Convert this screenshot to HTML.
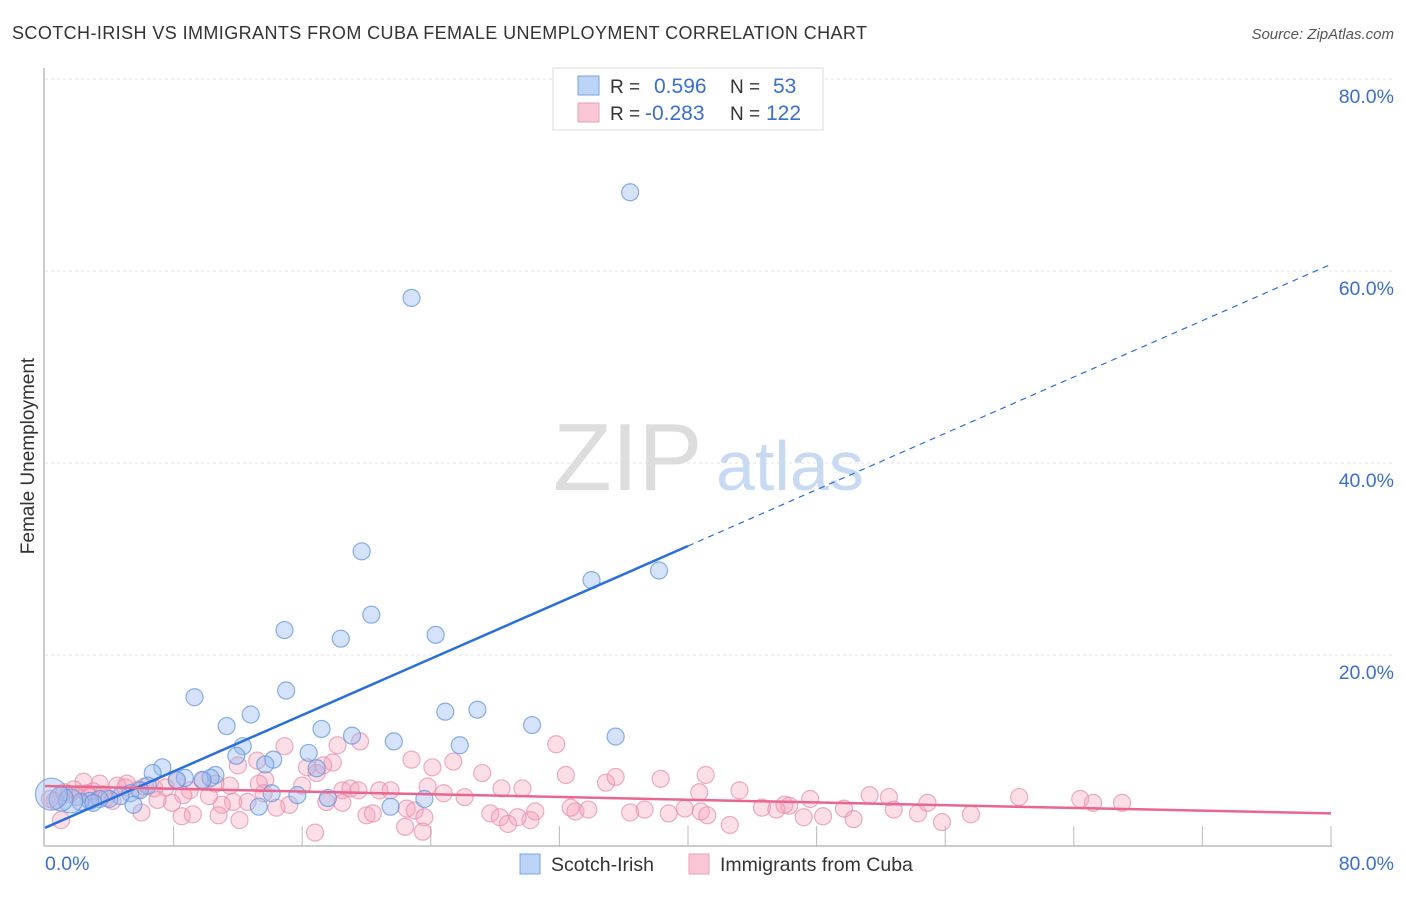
<!DOCTYPE html>
<html><head><meta charset="utf-8"><style>
body{margin:0;background:#fff;font-family:"Liberation Sans",sans-serif;}
svg text{font-family:"Liberation Sans",sans-serif;}
</style></head><body>
<svg id="chart" width="1406" height="892" viewBox="0 0 1406 892">
<text x="12" y="39" font-size="18" fill="#333" textLength="855">SCOTCH-IRISH VS IMMIGRANTS FROM CUBA FEMALE UNEMPLOYMENT CORRELATION CHART</text>
<text x="1394" y="39" font-size="15" fill="#555" font-style="italic" text-anchor="end">Source: ZipAtlas.com</text>
<g id="grid"></g>
<g>
<text x="553" y="490" font-size="96" fill="#ddd" font-family="Liberation Serif,serif">ZIP</text>
<text x="716" y="490" font-size="70" fill="#c8daf2">atlas</text>
</g>
<line x1="44" y1="68" x2="44" y2="846" stroke="#bbb" stroke-width="1.5"/>
<line x1="44" y1="846" x2="1332" y2="846" stroke="#bbb" stroke-width="1.5"/>
<g id="ticks"></g>
<g id="pts"></g>
<g id="lines"></g>
<text x="34" y="456" font-size="19" fill="#333" text-anchor="middle" transform="rotate(-90 34 456)">Female Unemployment</text>
<text x="45" y="870" font-size="19.5" fill="#3a6fd0">0.0%</text>
<text x="1394" y="870" font-size="19.5" fill="#3a6fd0" text-anchor="end">80.0%</text>
<g>
<rect x="553" y="68" width="270" height="62" fill="#fff" stroke="#ddd"/>
<rect x="578" y="76" width="21" height="19" fill="#bcd4f6" stroke="#7aa5e0"/>
<rect x="578" y="103" width="21" height="19" fill="#f9c6d4" stroke="#eaa0b8"/>
<text x="610" y="93" font-size="19" fill="#333">R = <tspan fill="#3a6fd0" x="654" font-size="21">0.596</tspan><tspan x="730">N = </tspan><tspan fill="#3a6fd0" x="773" font-size="21">53</tspan></text>
<text x="610" y="120" font-size="19" fill="#333">R = <tspan fill="#3a6fd0" x="645" font-size="21">-0.283</tspan><tspan x="730">N = </tspan><tspan fill="#3a6fd0" x="766" font-size="21">122</tspan></text>
</g>
<g>
<rect x="520" y="854" width="20" height="20" fill="#bcd4f6" stroke="#7aa5e0"/>
<text x="551" y="871" font-size="19.5" fill="#333">Scotch-Irish</text>
<text x="720" y="871" font-size="19.5" fill="#333">Immigrants from Cuba</text>
<rect x="689" y="854" width="20" height="20" fill="#f9c6d4" stroke="#eaa0b8"/>
</g>
</svg>
<script>
const yTicks=[20,40,60,80];
const yTickLabels=["20.0%","40.0%","60.0%","80.0%"];
const xTicks=[8,16,24,32,40,48,56,64,72,80];
const blueX=[36.4,22.8,19.7,34.0,38.2,20.3,14.9,18.4,24.3,9.3,15.0,12.8,11.3,17.2,24.9,26.9,30.3,35.5,19.1,21.7,25.8,12.3,16.4,11.9,14.2,13.7,16.9,7.3,6.7,10.6,10.3,8.7,8.2,9.8,6.4,5.9,5.3,4.7,4.0,3.4,2.8,2.2,1.6,1.0,0.4,14.1,15.7,17.6,23.6,13.3,21.5,5.5,3.0];
const blueY=[68.2,57.2,30.8,27.8,28.8,24.2,22.6,21.7,22.1,15.6,16.3,13.8,12.6,12.3,14.1,14.3,12.7,11.5,11.6,11.0,10.6,10.5,9.8,9.5,9.1,8.6,8.2,8.3,7.7,7.5,7.2,7.2,7.0,7.0,6.4,5.9,5.6,5.3,5.0,5.0,4.8,4.7,4.8,5.0,5.5,5.6,5.4,5.1,5.0,4.2,4.2,4.4,4.6];
const pinkX=[14.9,18.2,19.6,22.8,24.1,25.4,27.2,17.9,17.3,16.3,16.9,13.2,12.0,13.7,13.3,11.5,10.6,9.8,8.2,5.1,3.4,2.4,13.6,16.0,18.5,19.0,19.5,20.8,21.5,23.8,24.8,26.1,28.4,29.7,18.5,17.5,15.2,14.4,12.6,11.7,11.0,7.9,6.0,8.5,9.2,10.8,12.1,20.0,20.4,22.5,23.0,23.6,22.4,23.5,16.8,27.7,28.3,30.2,31.8,32.4,34.9,35.5,38.3,41.1,40.7,43.2,47.6,46.3,33.0,30.5,29.4,28.8,33.8,32.7,36.4,37.3,38.8,39.8,40.8,41.2,42.6,44.6,45.5,46.0,47.2,48.4,49.7,50.3,51.3,52.5,52.8,54.3,54.9,55.8,57.6,60.6,64.4,65.2,67.0,3.8,1.0,2.0,3.0,4.5,5.8,6.8,7.5,1.5,2.6,4.2,6.2,0.6,1.8,9.0,7.0,5.0,10.2,3.6,1.2,8.6,0.3,2.8];
const pinkY=[10.5,10.6,11.0,9.1,8.3,8.9,7.7,8.8,8.5,8.3,7.7,9.0,8.5,7.0,6.6,6.4,6.6,6.9,6.9,6.6,6.6,6.8,5.6,6.4,5.9,6.1,5.9,5.9,5.9,6.3,5.6,5.2,6.1,6.1,4.6,4.7,4.4,4.1,4.7,4.7,4.4,4.6,3.6,3.2,3.4,3.3,2.8,3.3,3.5,4.0,3.8,3.1,2.1,1.6,1.5,3.5,3.1,2.8,10.7,7.5,6.7,7.3,7.1,7.5,5.7,5.9,5.0,4.3,3.7,3.7,3.1,2.4,3.9,4.1,3.6,3.9,3.5,4.0,3.7,3.3,2.3,4.1,3.9,4.4,3.1,3.2,4.0,2.9,5.4,5.2,3.9,3.5,4.6,2.6,3.4,5.2,5.0,4.6,4.6,5.1,2.8,5.2,5.8,6.4,6.0,6.1,6.2,5.5,5.6,4.8,6.3,4.8,6.0,5.9,4.9,6.2,5.3,5.5,5.7,5.4,5.0,5.2];
const blueTrend=[2.0,60.7];
const pinkTrend=[6.35,3.5];
const NS="http://www.w3.org/2000/svg";
const X=v=>45+v*16.075, Y=v=>847-v*9.6;
function mk(t,a,p){const e=document.createElementNS(NS,t);for(const k in a)e.setAttribute(k,a[k]);p.appendChild(e);return e;}
const grid=document.getElementById('grid'),ticks=document.getElementById('ticks'),pts=document.getElementById('pts'),lines=document.getElementById('lines');
yTicks.forEach((t,i)=>{
 const l=mk('line',{x1:45,x2:1394,y1:Y(t),y2:Y(t),stroke:'#e3e3e3','stroke-dasharray':'3,3'},grid);
 
 
 const tx=mk('text',{x:1394,y:Y(t)+24,'font-size':19.5,fill:'#3a6fd0','text-anchor':'end'},grid);
 tx.textContent=yTickLabels[i];
 
 
});
xTicks.forEach(t=>{
 const l=mk('line',{x1:X(t),x2:X(t),y1:826,y2:846,stroke:'#bbb'},ticks);
 
 
});
const pn=Math.min(pinkX.length,pinkY.length);
for(let i=0;i<pn;i++){
 const c=mk('circle',{cx:X(pinkX[i]),cy:Y(pinkY[i]),r:8.5,fill:'rgba(245,160,185,0.35)',stroke:'rgba(230,140,170,0.7)','stroke-width':1.2},pts);
 
 
}
blueX.forEach((x,i)=>{
 const r=(i>=42&&i<=44)?(i==44?16:12):8.5;
 const c=mk('circle',{cx:X(x),cy:Y(blueY[i]),r:r,fill:'rgba(147,185,240,0.4)',stroke:'rgba(100,150,220,0.75)','stroke-width':1.2},pts);
 
 
});
const bAt=x=>blueTrend[0]+(blueTrend[1]-blueTrend[0])*x/80;
let l1=mk('line',{x1:X(0),y1:Y(bAt(0)),x2:X(40),y2:Y(bAt(40)),stroke:'#2a6fdb','stroke-width':2.5},lines);


let l2=mk('line',{x1:X(40),y1:Y(bAt(40)),x2:X(80),y2:Y(bAt(80)),stroke:'#2a6fdb','stroke-width':1.2,'stroke-dasharray':'6,5'},lines);


let l3=mk('line',{x1:X(0),y1:Y(pinkTrend[0]),x2:X(80),y2:Y(pinkTrend[1]),stroke:'#e8668f','stroke-width':2.5},lines);


</script>
</body></html>
